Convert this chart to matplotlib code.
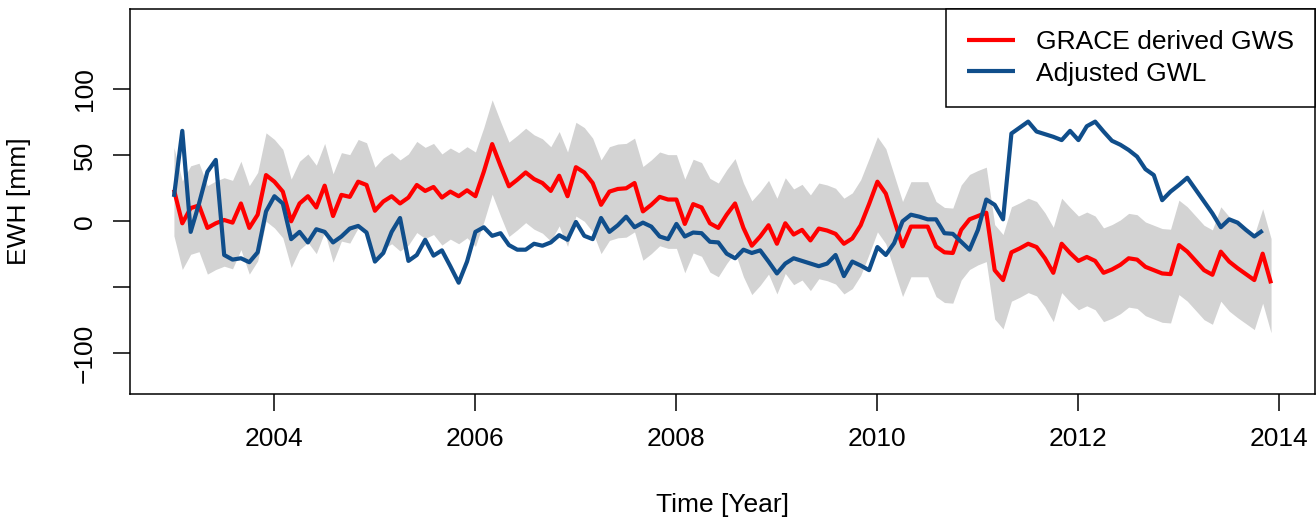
import numpy as np
import matplotlib
matplotlib.use("Agg")
import matplotlib.pyplot as plt

plt.rcParams['font.family'] = ['Liberation Sans', 'DejaVu Sans']

start_year = 2003
n_months = 132

grace_gws = [24, -1.5, 10, 12, -5, -1.5, 1, -1, 13.5, -5, 5, 35,
             30, 22.5, 0, 13.5, 19, 10.5, 27, 4, 20, 18.5, 30, 27.5,
             8, 15, 19, 13.5, 18, 27.5, 23, 26, 18, 22.5, 19, 23.5,
             19, 37.5, 58.5, 42, 26.5, 31.5, 37, 32, 29, 23, 34.5, 19,
             41, 37, 29, 12.5, 22.5, 24.5, 25, 29, 7.5, 12.5, 18.5, 16.5,
             16.5, -2, 13, 10.5, -1.5, -5, 5, 13.5, -5, -18.5, -11.5, -3,
             -17, -1.5, -10, -6.5, -14.5, -5.5, -7, -9.5, -17, -13, -3, 13,
             30, 21, 1, -19, -4, -4, -4, -19, -23.5, -24, -6.5, 1.5,
             4, 6.5, -37, -44.5, -23.5, -20.5, -17, -19.5, -28, -39, -17, -24,
             -30, -27, -30, -39, -36.5, -33, -28, -29, -34.5, -37, -39.5, -40,
             -18, -23, -30, -37, -40.5, -23, -30.5, -35.5, -40, -44.5, -24.5, -47]

adjusted_gwl = [18.5, 68.5, -8, 13.5, 37.5, 46.5, -25.5, -29, -28, -31, -23.5, 7.5,
                19, 13.5, -13.5, -8, -16, -6, -8, -16, -11.5, -5.5, -3.5, -8.5,
                -30.5, -24, -8, 2.5, -30, -25.5, -14, -26, -22, -34, -46.5, -30.5,
                -8, -4.5, -11, -9, -18, -21.5, -21.5, -17, -18.5, -16, -10.5, -14,
                -0.5, -11, -13.5, 2.5, -8, -3, 3.5, -4.5, -1, -4, -11.5, -13.5,
                -2, -11.5, -8.5, -9, -15.5, -16, -24.5, -28, -21.5, -24, -22, -30.5,
                -39.5, -32, -28, -30, -32, -34, -32, -25.5, -41.5, -30.5, -33.5, -37,
                -19.5, -25.5, -16.5, 0, 5, 3.5, 1.5, 1.5, -9, -9.5, -15.5, -21.5,
                -6.5, 16.5, 12.5, 1.5, 66.5, 71, 75.5, 68, 66, 64, 61.5, 68.5,
                61.5, 72, 75.5, 68, 61, 58, 54, 49, 39.5, 35, 16, 22.5,
                27.5, 33, 24, 15, 6, -4.5, 1.5, -1, -6.5, -11.5, -7]

# band offsets above / below the GRACE series, per year 2003..2013
band_up_offset = [32, 32, 33, 33.5, 34, 34, 34.5, 34, 34.5, 34, 34]
band_low_offset = [35, 35, 36, 38, 37, 37, 38, 38, 37, 37, 37.5]

x_ticks = [2004, 2006, 2008, 2010, 2012, 2014]
y_ticks = [-100, -50, 0, 50, 100]
y_tick_labels = ["\u2212100", "", "0", "50", "100"]

t = start_year + np.arange(n_months) / 12.0
red = np.array(grace_gws, dtype=float)
blue = np.array(adjusted_gwl, dtype=float)
t_blue = t[:len(blue)]
yr_idx = np.arange(n_months) // 12
upper = red + np.array(band_up_offset)[yr_idx]
lower = red - np.array(band_low_offset)[yr_idx]

FS = 19
W, H = 1316, 522
fig = plt.figure(figsize=(W / 100, H / 100), dpi=100)
ax = fig.add_axes([130 / W, 1 - 394 / H, (1315 - 130) / W, (394 - 9) / H])

ax.fill_between(t, lower, upper, color='#D3D3D3', lw=0, zorder=1)
ax.plot(t, red, color='#FF0000', lw=3.0, zorder=2, label='GRACE derived GWS',
        solid_joinstyle='round', solid_capstyle='butt')
ax.plot(t_blue, blue, color='#104E8B', lw=3.0, zorder=3, label='Adjusted GWL',
        solid_joinstyle='round', solid_capstyle='butt')

ax.set_xlim(2002.563, 2014.354)
ax.set_ylim(-130.8, 160.8)
ax.set_xticks(x_ticks)
ax.set_xticklabels([str(v) for v in x_ticks])
ax.set_yticks(y_ticks)
ax.set_yticklabels(y_tick_labels, rotation=90, va='center')

for s in ax.spines.values():
    s.set_linewidth(1.1)
    s.set_color('black')
ax.tick_params(axis='both', direction='out', length=12, width=1.1,
               labelsize=FS, colors='black')
ax.tick_params(axis='x', pad=12)
ax.tick_params(axis='y', pad=12)

ax.set_xlabel('Time [Year]', fontsize=FS, labelpad=30)
ax.set_ylabel('EWH [mm]', fontsize=FS, labelpad=30)

leg = ax.legend(loc='upper right', bbox_to_anchor=(1, 1), borderaxespad=0,
                fancybox=False, edgecolor='black', framealpha=1, fontsize=FS,
                handlelength=1.8, handletextpad=0.8, labelspacing=0.28,
                borderpad=0.8)
leg.get_frame().set_linewidth(1.1)

fig.savefig('out.png', dpi=100)
